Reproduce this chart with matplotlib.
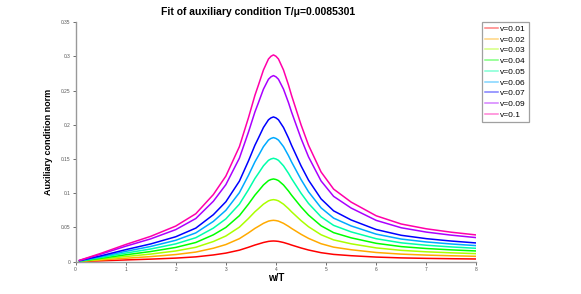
import numpy as np
import matplotlib
matplotlib.use("Agg")
import matplotlib.pyplot as plt
import matplotlib.colors as mcolors

plt.rcParams["font.family"] = ["Liberation Sans", "DejaVu Sans"]

# ─── Dados ────────────────────────────────────────────────────────────────────
w_T = [0.08, 0.5, 1.0, 1.5, 2.0, 2.4, 2.75, 3.0, 3.27, 3.45, 3.58, 3.65, 3.75, 3.85, 3.9,
       3.95, 4.0, 4.05, 4.15, 4.25, 4.31, 4.5, 4.65, 4.9, 5.15, 5.5, 6.0, 6.5, 7.0, 7.5, 8.0]

v_labels = ["v=0.01", "v=0.02", "v=0.03", "v=0.04", "v=0.05",
            "v=0.06", "v=0.07", "v=0.09", "v=0.1"]

norm_v001 = [0.0002, 0.0012, 0.0025, 0.0037, 0.0052, 0.0070, 0.0098, 0.0125, 0.0168, 0.0210,
             0.0243, 0.0258, 0.0280, 0.0296, 0.0300, 0.0302, 0.0300, 0.0296, 0.0280, 0.0258,
             0.0243, 0.0200, 0.0170, 0.0131, 0.0106, 0.0087, 0.0067, 0.0055, 0.0048, 0.0043,
             0.0039]
norm_v002 = [0.0004, 0.0024, 0.0050, 0.0074, 0.0104, 0.0140, 0.0196, 0.0250, 0.0336, 0.0420,
             0.0486, 0.0516, 0.0560, 0.0592, 0.0600, 0.0604, 0.0600, 0.0592, 0.0560, 0.0516,
             0.0486, 0.0400, 0.0340, 0.0262, 0.0212, 0.0174, 0.0134, 0.0110, 0.0096, 0.0086,
             0.0078]
norm_v003 = [0.0006, 0.0036, 0.0075, 0.0111, 0.0156, 0.0210, 0.0294, 0.0375, 0.0504, 0.0630,
             0.0729, 0.0774, 0.0840, 0.0888, 0.0900, 0.0906, 0.0900, 0.0888, 0.0840, 0.0774,
             0.0729, 0.0600, 0.0510, 0.0393, 0.0318, 0.0261, 0.0201, 0.0165, 0.0144, 0.0129,
             0.0117]
norm_v004 = [0.0008, 0.0048, 0.0100, 0.0148, 0.0208, 0.0280, 0.0392, 0.0500, 0.0672, 0.0840,
             0.0972, 0.1032, 0.1120, 0.1184, 0.1200, 0.1208, 0.1200, 0.1184, 0.1120, 0.1032,
             0.0972, 0.0800, 0.0680, 0.0524, 0.0424, 0.0348, 0.0268, 0.0220, 0.0192, 0.0172,
             0.0156]
norm_v005 = [0.0010, 0.0060, 0.0125, 0.0185, 0.0260, 0.0350, 0.0490, 0.0625, 0.0840, 0.1050,
             0.1215, 0.1290, 0.1400, 0.1480, 0.1500, 0.1510, 0.1500, 0.1480, 0.1400, 0.1290,
             0.1215, 0.1000, 0.0850, 0.0655, 0.0530, 0.0435, 0.0335, 0.0275, 0.0240, 0.0215,
             0.0195]
norm_v006 = [0.0012, 0.0072, 0.0150, 0.0222, 0.0312, 0.0420, 0.0588, 0.0750, 0.1008, 0.1260,
             0.1458, 0.1548, 0.1680, 0.1776, 0.1800, 0.1812, 0.1800, 0.1776, 0.1680, 0.1548,
             0.1458, 0.1200, 0.1020, 0.0786, 0.0636, 0.0522, 0.0402, 0.0330, 0.0288, 0.0258,
             0.0234]
norm_v007 = [0.0014, 0.0084, 0.0175, 0.0259, 0.0364, 0.0490, 0.0686, 0.0875, 0.1176, 0.1470,
             0.1701, 0.1806, 0.1960, 0.2072, 0.2100, 0.2114, 0.2100, 0.2072, 0.1960, 0.1806,
             0.1701, 0.1400, 0.1190, 0.0917, 0.0742, 0.0609, 0.0469, 0.0385, 0.0336, 0.0301,
             0.0273]
norm_v009 = [0.0018, 0.0108, 0.0225, 0.0333, 0.0468, 0.0630, 0.0882, 0.1125, 0.1512, 0.1890,
             0.2187, 0.2322, 0.2520, 0.2664, 0.2700, 0.2718, 0.2700, 0.2664, 0.2520, 0.2322,
             0.2187, 0.1800, 0.1530, 0.1179, 0.0954, 0.0783, 0.0603, 0.0495, 0.0432, 0.0387,
             0.0351]
norm_v010 = [0.0020, 0.0120, 0.0250, 0.0370, 0.0520, 0.0700, 0.0980, 0.1250, 0.1680, 0.2100,
             0.2430, 0.2580, 0.2800, 0.2960, 0.3000, 0.3020, 0.3000, 0.2960, 0.2800, 0.2580,
             0.2430, 0.2000, 0.1700, 0.1310, 0.1060, 0.0870, 0.0670, 0.0550, 0.0480, 0.0430,
             0.0390]

series = [norm_v001, norm_v002, norm_v003, norm_v004, norm_v005,
          norm_v006, norm_v007, norm_v009, norm_v010]

# cores: matiz hsv em passos de 40°
colors = [mcolors.hsv_to_rgb((i / 9, 1, 1)) for i in range(9)]

# ─── Figura ───────────────────────────────────────────────────────────────────
fig = plt.figure(figsize=(5.81, 2.94), dpi=100)
ax = fig.add_axes([0.130, 0.110, 0.690, 0.815])

for vals, lab, col in zip(series, v_labels, colors):
    ax.plot(w_T, vals, color=col, linewidth=1.1, label=lab,
            solid_joinstyle="round")

ax.set_xlim(0, 8)
ax.set_ylim(0, 0.35)
ax.set_xticks(range(9))
ax.set_yticks([0, 0.05, 0.1, 0.15, 0.2, 0.25, 0.3, 0.35])
ax.set_yticklabels(["0", "0.05", "0.1", "0.15", "0.2", "0.25", "0.3", "0.35"])
ax.tick_params(labelsize=3.5, length=2, width=0.6, colors="#555555", pad=1.5)
for s in ("top", "right"):
    ax.spines[s].set_visible(False)
for s in ("left", "bottom"):
    ax.spines[s].set_color("#999999")
    ax.spines[s].set_linewidth(1.0)

ax.set_xlabel("w/T", fontsize=7, fontweight="bold", labelpad=1)
ax.set_ylabel("Auxiliary condition norm", fontsize=6.5, fontweight="bold", labelpad=6)
fig.text(0.445, 0.958, "Fit of auxiliary condition T/\u03bc=0.0085301",
         ha="center", va="center", fontsize=7.5, fontweight="bold")

leg = ax.legend(loc="upper left", bbox_to_anchor=(0.829, 0.925),
                bbox_transform=fig.transFigure, fontsize=6, frameon=True,
                fancybox=False, handlelength=1.6, handletextpad=0.3,
                labelspacing=0.35, borderpad=0.35, borderaxespad=0)
leg.get_frame().set_edgecolor("#888888")
leg.get_frame().set_linewidth(0.9)
for line in leg.get_lines():
    line.set_alpha(0.5)

plt.savefig("out.png", dpi=100)
plt.close()
